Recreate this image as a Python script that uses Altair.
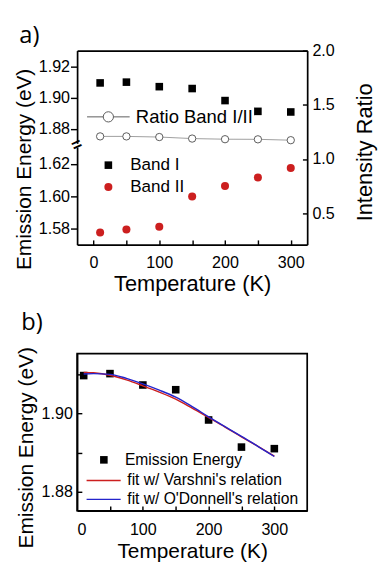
import altair as alt
import pandas as pd

# ---------------- data ----------------
temps = [10, 50, 100, 150, 200, 250, 300]
band1 = [1.9096, 1.9101, 1.9072, 1.9060, 1.8983, 1.8914, 1.8910]
band2 = [1.5776, 1.5794, 1.5812, 1.6000, 1.6065, 1.6118, 1.6176]
ratio = [1.21, 1.21, 1.204, 1.19, 1.184, 1.183, 1.175]
emission = [1.9096, 1.9101, 1.9072, 1.9060, 1.8983, 1.8914, 1.8910]

fit_t = [10, 25, 50, 75, 100, 125, 150, 175, 200, 225, 250, 275, 300]
varshni = [1.9104, 1.9103, 1.9097, 1.9085, 1.9070, 1.9054, 1.9036, 1.9013, 1.8989, 1.8965, 1.8940, 1.8916, 1.8891]
odonnell = [1.9100, 1.9101, 1.9099, 1.9089, 1.9075, 1.9059, 1.9041, 1.9017, 1.8991, 1.8966, 1.8941, 1.8916, 1.8890]

FONT = "Liberation Sans"
RED = "#cc1f1f"
BLUE = "#2424cc"

df1 = pd.DataFrame({"T": temps, "E": band1, "s": "Band I"})
df2 = pd.DataFrame({"T": temps, "E": band2, "s": "Band II"})
dfr = pd.DataFrame({"T": temps, "R": ratio, "s": "Ratio Band I/II"})
dfe = pd.DataFrame({"T": temps, "E": emission, "s": "Emission Energy"})
dfv = pd.DataFrame({"T": fit_t, "E": varshni, "s": "fit w/ Varshni's relation"})
dfo = pd.DataFrame({"T": fit_t, "E": odonnell, "s": "fit w/ O'Donnell's relation"})

WA, HA = 243, 205
WB, HB = 243, 166
xa = alt.Scale(domain=[-25, 325], nice=False, zero=False)
ratio_scale = alt.Scale(domain=[0.213, 2.0], nice=False, zero=False)

# ---------------- panel a ----------------
a1 = alt.Chart(df1).mark_square(size=64, opacity=1).encode(
    x=alt.X("T:Q", scale=xa, axis=alt.Axis(values=[0, 100, 200, 300], ticks=False, tickSize=0,
                                           labelPadding=11, title="Temperature (K)", titlePadding=3)),
    y=alt.Y("E:Q", scale=alt.Scale(domain=[1.8709, 1.9303], range=[98, 0], nice=False, zero=False),
            axis=alt.Axis(orient="left", values=[1.88, 1.90, 1.92], format=".2f", tickSize=7,
                          labelPadding=1, title="Emission Energy (eV)", titleY=125, titlePadding=3,
                          titleFontSize=22)),
    color=alt.Color("s:N", scale=alt.Scale(domain=["Band I"], range=["black"]),
                    legend=alt.Legend(orient="none", legendX=24, legendY=112, title=None,
                                      labelFontSize=18, labelOffset=14, symbolSize=64, padding=0,
                                      labelLimit=300)),
)

a2 = alt.Chart(df2).mark_circle(size=72, opacity=1).encode(
    x=alt.X("T:Q", scale=xa, axis=alt.Axis(orient="top", offset=-HA, values=[0, 50, 100, 150, 200, 250, 300],
                                           labels=False, domain=False, tickSize=5, title=None)),
    y=alt.Y("E:Q", scale=alt.Scale(domain=[1.570, 1.6306], range=[205, 102], nice=False, zero=False),
            axis=alt.Axis(orient="left", values=[1.58, 1.60, 1.62], format=".2f", tickSize=7,
                          labelPadding=1, title=None)),
    color=alt.Color("s:N", scale=alt.Scale(domain=["Band II"], range=[RED]),
                    legend=alt.Legend(orient="none", legendX=24, legendY=135, title=None,
                                      labelFontSize=18, labelOffset=14, symbolSize=72, padding=0,
                                      labelLimit=300)),
)

a3 = alt.Chart(dfr).mark_line(color="#9a9a9a", strokeWidth=1).encode(
    x=alt.X("T:Q", scale=xa, axis=alt.Axis(orient="top", labels=False, ticks=False, tickSize=0,
                                           domain=True, title=None)),
    y=alt.Y("R:Q", scale=ratio_scale,
            axis=alt.Axis(orient="left", offset=-WA, values=[0.5, 1.0, 1.5, 2.0], labels=False,
                          domain=False, tickSize=5, title=None)),
)

SYM = "M-1,0L-0.24,0M0.24,0L1,0M0.24,0A0.24,0.24,0,1,1,-0.24,0A0.24,0.24,0,1,1,0.24,0"
a4 = alt.Chart(dfr).mark_point(shape="circle", filled=False, fill="white", size=60,
                               strokeWidth=1, opacity=1).encode(
    x=alt.X("T:Q", scale=xa, axis=None),
    y=alt.Y("R:Q", scale=ratio_scale,
            axis=alt.Axis(orient="right", values=[0.5, 1.0, 1.5, 2.0], format=".1f", ticks=False,
                          tickSize=0, labelPadding=5, title="Intensity Ratio", titleAngle=270,
                          titleBaseline="top", titlePadding=21, titleY=107)),
    color=alt.Color("s:N", scale=alt.Scale(domain=["Ratio Band I/II"], range=["#555555"]),
                    legend=alt.Legend(orient="none", legendX=10, legendY=47, title=None,
                                      labelFontSize=19.5, labelOffset=6, symbolType=SYM,
                                      symbolSize=2025, symbolStrokeWidth=1, padding=0,
                                      labelLimit=300)),
)

a5 = alt.Chart(pd.DataFrame({"k": [0]})).mark_text(
    text="=", angle=335, fontSize=18, fontWeight="bold", color="black"
).encode(x=alt.value(0), y=alt.value(100))

panel_a = alt.layer(a1, a2, a3, a4, a5).resolve_scale(
    x="independent", y="independent", color="independent"
).resolve_legend(color="independent").properties(
    width=WA, height=HA,
    title=alt.TitleParams("a)", anchor="start", dx=6, offset=-6, fontSize=25, font="Open Sans",
                          fontWeight="normal"),
)

# ---------------- panel b ----------------
xb = alt.Scale(domain=[0, 350], nice=False, zero=False)
yb = alt.Scale(domain=[1.8752, 1.9152], nice=False, zero=False)

b1 = alt.Chart(dfe).mark_square(size=64, opacity=1).encode(
    x=alt.X("T:Q", scale=xb, axis=alt.Axis(values=[0, 100, 200, 300], ticks=False, tickSize=0,
                                           labelPadding=12, title="Temperature (K)", titlePadding=4,
                                           titleFontSize=22)),
    y=alt.Y("E:Q", scale=yb, axis=alt.Axis(orient="left", values=[1.88, 1.90], format=".2f", ticks=False,
                                           tickSize=0, labelPadding=5, title="Emission Energy (eV)",
                                           titleY=99, titlePadding=4, titleFontSize=22)),
    color=alt.Color("s:N", scale=alt.Scale(domain=["Emission Energy"], range=["black"]),
                    legend=alt.Legend(orient="none", legendX=20, legendY=104, title=None,
                                      labelFontSize=16.5, labelOffset=14, symbolSize=64, padding=0,
                                      labelLimit=300)),
)

b2 = alt.Chart(dfv).mark_line(strokeWidth=1.5, interpolate="monotone").encode(
    x=alt.X("T:Q", scale=xb, axis=alt.Axis(orient="top", offset=-HB, values=[50, 100, 150, 200, 250, 300],
                                           labels=False, domain=False, tickSize=5, title=None)),
    y=alt.Y("E:Q", scale=yb, axis=alt.Axis(orient="right", offset=-WB, values=[1.88, 1.89, 1.90, 1.91],
                                           labels=False, domain=False, tickSize=5, title=None)),
    color=alt.Color("s:N", scale=alt.Scale(domain=["fit w/ Varshni's relation"], range=[RED]),
                    legend=alt.Legend(orient="none", legendX=9, legendY=115, title=None,
                                      labelFontSize=16.5, labelOffset=6, symbolType="stroke",
                                      symbolSize=1296, symbolStrokeWidth=1.5, padding=0,
                                      labelLimit=300)),
)

b3 = alt.Chart(dfo).mark_line(strokeWidth=1.5, interpolate="monotone").encode(
    x=alt.X("T:Q", scale=xb, axis=None),
    y=alt.Y("E:Q", scale=yb, axis=None),
    color=alt.Color("s:N", scale=alt.Scale(domain=["fit w/ O'Donnell's relation"], range=[BLUE]),
                    legend=alt.Legend(orient="none", legendX=9, legendY=135, title=None,
                                      labelFontSize=16.5, labelOffset=6, symbolType="stroke",
                                      symbolSize=1296, symbolStrokeWidth=1.5, padding=0,
                                      labelLimit=300)),
)

panel_b = alt.layer(b1, b2, b3).resolve_scale(
    x="independent", y="independent", color="independent"
).resolve_legend(color="independent").properties(
    width=WB, height=HB,
    view=alt.ViewBackground(stroke="black", strokeWidth=1.8),
    title=alt.TitleParams("b)", anchor="start", dx=6, offset=12, fontSize=25, font="Open Sans",
                          fontWeight="normal"),
)

chart = alt.vconcat(panel_a, panel_b, spacing=15).properties(
    padding={"top": 0, "left": 5, "right": 5, "bottom": 0}
).configure_axis(
    labelFont=FONT, titleFont=FONT, labelFontSize=17, titleFontSize=23, titleFontWeight="normal",
    labelColor="black", titleColor="black", domainColor="black", tickColor="black",
    domainWidth=1.8, tickWidth=1.5, grid=False,
).configure_legend(labelFont=FONT, labelColor="black").configure_view(stroke="transparent")

chart.save("out.html", embed_options={"renderer": "svg", "actions": False})
